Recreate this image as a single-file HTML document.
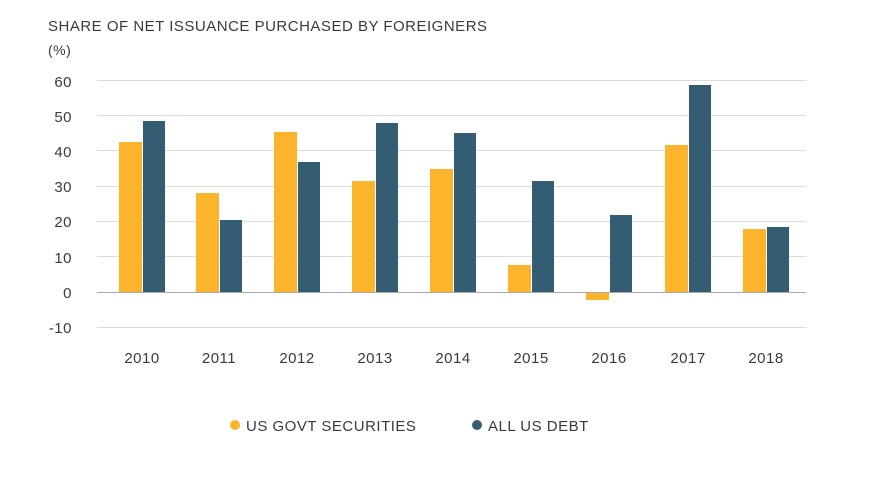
<!DOCTYPE html><html><head><style>body{margin:0;background:#fff}svg text{font-family:"Liberation Sans",sans-serif;fill:#3a3a3a;letter-spacing:0.5px}</style></head><body>
<svg width="871" height="495" xmlns="http://www.w3.org/2000/svg">
<text x="48" y="31" font-size="15">SHARE OF NET ISSUANCE PURCHASED BY FOREIGNERS</text>
<text x="48" y="55" font-size="14">(%)</text>
<g stroke="#dcdcdc" stroke-width="1">
<line x1="97" x2="806" y1="80.5" y2="80.5"/><line x1="97" x2="806" y1="115.5" y2="115.5"/><line x1="97" x2="806" y1="150.5" y2="150.5"/><line x1="97" x2="806" y1="186.5" y2="186.5"/><line x1="97" x2="806" y1="221.5" y2="221.5"/><line x1="97" x2="806" y1="256.5" y2="256.5"/><line x1="97" x2="806" y1="327.5" y2="327.5"/></g>
<g font-size="15" text-anchor="end"><text x="72" y="87">60</text><text x="72" y="122">50</text><text x="72" y="157">40</text><text x="72" y="192">30</text><text x="72" y="227">20</text><text x="72" y="263">10</text><text x="72" y="298">0</text><text x="72" y="333">-10</text></g>
<g fill="#fbb42c">
<rect x="119" y="142" width="23" height="150"/><rect x="196" y="193" width="23" height="99"/><rect x="274" y="132" width="23" height="160"/><rect x="352" y="181" width="23" height="111"/><rect x="430" y="169" width="23" height="123"/><rect x="508" y="265" width="23" height="27"/><rect x="586" y="292" width="23" height="8"/><rect x="665" y="145" width="23" height="147"/><rect x="743" y="229" width="23" height="63"/></g>
<g fill="#345d74">
<rect x="143" y="121" width="22" height="171"/><rect x="220" y="220" width="22" height="72"/><rect x="298" y="162" width="22" height="130"/><rect x="376" y="123" width="22" height="169"/><rect x="454" y="133" width="22" height="159"/><rect x="532" y="181" width="22" height="111"/><rect x="610" y="215" width="22" height="77"/><rect x="689" y="85" width="22" height="207"/><rect x="767" y="227" width="22" height="65"/></g>
<line x1="97" x2="806" y1="292.5" y2="292.5" stroke="#aaa"/>
<g font-size="15" text-anchor="middle"><text x="142" y="363">2010</text><text x="219" y="363">2011</text><text x="297" y="363">2012</text><text x="375" y="363">2013</text><text x="453" y="363">2014</text><text x="531" y="363">2015</text><text x="609" y="363">2016</text><text x="688" y="363">2017</text><text x="766" y="363">2018</text></g>
<circle cx="235" cy="425" r="5" fill="#fbb42c"/><text x="246" y="431" font-size="15">US GOVT SECURITIES</text>
<circle cx="477" cy="425" r="5" fill="#345d74"/><text x="488" y="431" font-size="15">ALL US DEBT</text>
</svg></body></html>
